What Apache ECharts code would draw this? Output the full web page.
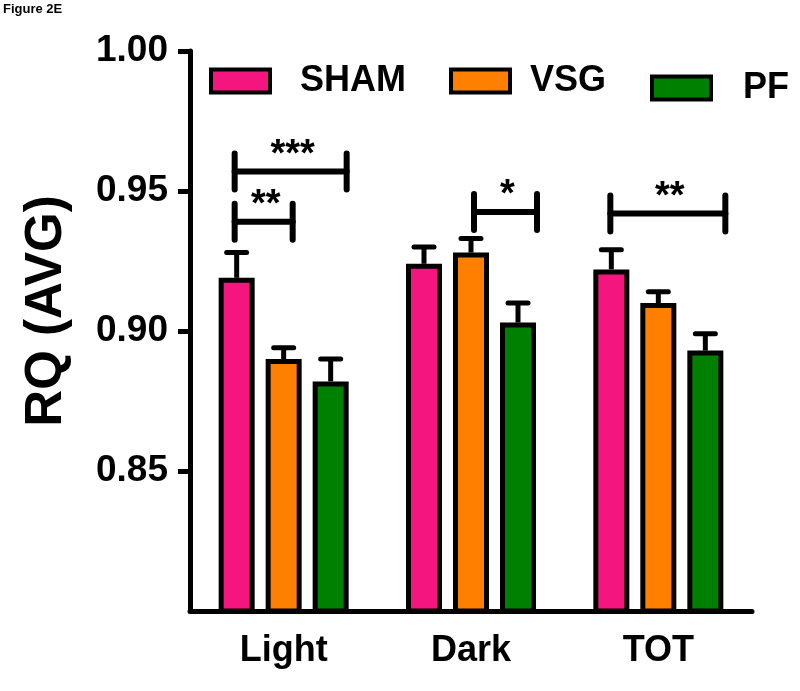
<!DOCTYPE html>
<html><head><meta charset="utf-8">
<script src="https://cdn.jsdelivr.net/npm/echarts@6/dist/echarts.min.js"></script>
<style>html,body{margin:0;padding:0;background:#fff}#c{width:800px;height:691px}</style>
</head><body><div id="c"></div>
<script>
// ---- data ----
const categories = ['Light', 'Dark', 'TOT'];
const groupNames = ['SHAM', 'VSG', 'PF'];
const shamMean = [0.919, 0.924, 0.922];
const vsgMean  = [0.890, 0.928, 0.910];
const pfMean   = [0.882, 0.903, 0.893];
const shamUpper = [0.928, 0.930, 0.929];
const vsgUpper  = [0.894, 0.933, 0.914];
const pfUpper   = [0.890, 0.910, 0.899];
const yTickValues = [0.85, 0.90, 0.95, 1.00];
const sigCategory = [0, 0, 1, 2];
const sigLevel = [0.957, 0.939, 0.9425, 0.942];
const sigStars = ['***', '**', '*', '**'];

// ---- style ----
const FONT = "'Liberation Sans', Arial, sans-serif";
const COLORS = ['#F5157F', '#FF8000', '#008000'];
const BAR_W = 36, BAR_GAP_PX = 11;
const SLOT = BAR_W + BAR_GAP_PX;
const BRACKET_SPAN = [[-49, 63], [-49, 9], [3, 66], [-48, 67]];
const BRACKET_TICK = 18;
const LEG_LEFT = [209, 449, 650];
const LEG_TOP = [63, 63, 70];
const LEG_PAD = [25, 15, 27];

const means = [shamMean, vsgMean, pfMean];
const uppers = [shamUpper, vsgUpper, pfUpper];

const chart = echarts.init(document.getElementById('c'), null, {renderer: 'canvas'});

const barSeries = groupNames.map((n, i) => ({
  type: 'bar', name: n, data: means[i],
  barWidth: BAR_W, barGap: (BAR_GAP_PX / BAR_W * 100) + '%',
  itemStyle: {color: COLORS[i], borderColor: '#000', borderWidth: 5},
  z: 2, silent: true
}));

const errData = [];
groupNames.forEach((n, g) => categories.forEach((c, k) => errData.push([k, means[g][k], uppers[g][k], g])));

const errSeries = {
  type: 'custom', data: errData, z: 3, silent: true,
  encode: {x: 0, y: [1, 2]},
  renderItem(params, api) {
    const k = api.value(0), m = api.value(1), u = api.value(2), g = api.value(3);
    const p0 = api.coord([k, m]), p1 = api.coord([k, u]);
    const x = p0[0] + (g - 1) * SLOT;
    return {type: 'group', children: [
      {type: 'line', shape: {x1: x, y1: p0[1], x2: x, y2: p1[1]}, style: {stroke: '#000', lineWidth: 5}},
      {type: 'line', shape: {x1: x - 10, y1: p1[1], x2: x + 10, y2: p1[1]}, style: {stroke: '#000', lineWidth: 5, lineCap: 'round'}}
    ]};
  }
};

const sigData = sigCategory.map((c, i) => [c, sigLevel[i], i]);
const sigSeries = {
  type: 'custom', data: sigData, z: 4, silent: true,
  encode: {x: 0, y: 1},
  renderItem(params, api) {
    const k = api.value(0), v = api.value(1), i = api.value(2);
    const p = api.coord([k, v]);
    const x1 = p[0] + BRACKET_SPAN[i][0], x2 = p[0] + BRACKET_SPAN[i][1], y = p[1];
    const st = {stroke: '#000', lineWidth: 6, lineCap: 'round'};
    return {type: 'group', children: [
      {type: 'line', shape: {x1: x1, y1: y, x2: x2, y2: y}, style: st},
      {type: 'line', shape: {x1: x1, y1: y - BRACKET_TICK, x2: x1, y2: y + BRACKET_TICK}, style: st},
      {type: 'line', shape: {x1: x2, y1: y - BRACKET_TICK, x2: x2, y2: y + BRACKET_TICK}, style: st},
      {type: 'text', style: {text: sigStars[i], x: (x1 + x2) / 2 + 2, y: y - 16, align: 'center', verticalAlign: 'middle',
        font: 'bold 38px ' + FONT, fill: '#000'}}
    ]};
  }
};

chart.setOption({
  animation: false,
  backgroundColor: '#fff',
  textStyle: {fontFamily: FONT},
  grid: {left: 190, top: 51, right: 48, bottom: 80, containLabel: false, outerBoundsMode: 'none'},
  legend: groupNames.map((n, i) => ({
    data: [n], left: LEG_LEFT[i], top: LEG_TOP[i], padding: 0,
    itemWidth: 59, itemHeight: 23, icon: 'rect', selectedMode: false,
    itemStyle: {borderColor: '#000', borderWidth: 4},
    textStyle: {fontSize: 36, fontWeight: 'bold', fontFamily: FONT, color: '#000', padding: [6, 0, 0, LEG_PAD[i]]}
  })),
  xAxis: {
    type: 'category', data: categories,
    axisLine: {lineStyle: {color: '#000', width: 5}},
    axisTick: {alignWithLabel: true, length: 12, lineStyle: {color: '#000', width: 5}},
    axisLabel: {fontSize: 36, fontWeight: 'bold', color: '#000', margin: 22, fontFamily: FONT}
  },
  yAxis: {
    type: 'value', min: 0.80, max: 1.00, interval: 0.05,
    splitLine: {show: false},
    axisLine: {show: true, lineStyle: {color: '#000', width: 5}},
    axisTick: {show: true, length: 12, customValues: yTickValues, lineStyle: {color: '#000', width: 5}},
    axisLabel: {fontSize: 37, fontWeight: 'bold', color: '#000', margin: 22, fontFamily: FONT,
      customValues: yTickValues,
      formatter: v => (Math.abs(v - 0.8) < 1e-6 ? '' : v.toFixed(2))}
  },
  graphic: [
    {type: 'text', left: 3, top: 3, style: {text: 'Figure 2E', font: 'bold 13px ' + FONT, fill: '#000'}},
    {type: 'text', x: 47, y: 311, rotation: Math.PI / 2,
      style: {text: 'RQ (AVG)', font: 'bold 51px ' + FONT, fill: '#000', align: 'center', verticalAlign: 'middle'}}
  ],
  series: [...barSeries, errSeries, sigSeries]
});
</script></body></html>
